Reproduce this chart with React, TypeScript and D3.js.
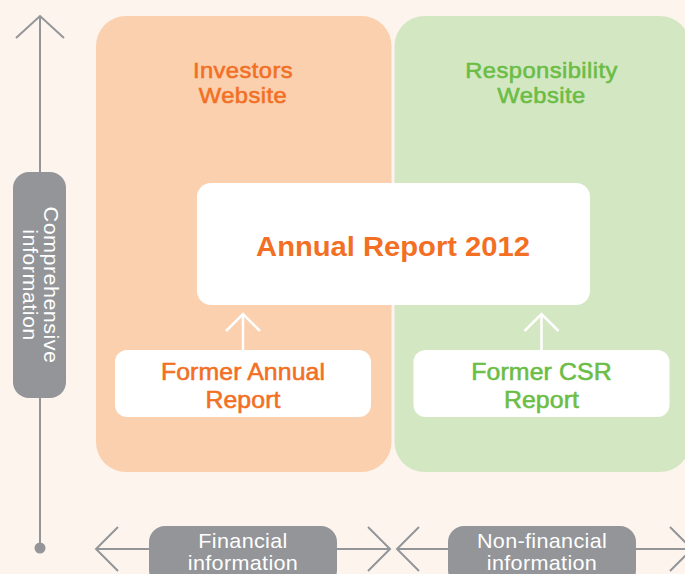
import React from "react";
import * as d3 from "d3";

const W = 685;
const H = 574;

// Content of the diagram
const panelTitles = [["Investors", "Website"], ["Responsibility", "Website"]];
const centerTitle = "Annual Report 2012";
const formerReports = [["Former Annual", "Report"], ["Former CSR", "Report"]];
const axisLabelsX = [["Financial", "information"], ["Non-financial", "information"]];
const axisLabelY = ["Comprehensive", "information"];
const panelColors = ["#fbd0ae", "#d4e7c3"];
const textColors = ["#f26f24", "#6bbd45"];

const FONT = "'Liberation Sans', Arial, Helvetica, sans-serif";
const GREY = "#939598";
const SX = 1.08; // horizontal widening to mimic Helvetica Neue

type TProps = { x: number; y: number; size: number; fill: string; bold?: boolean; medium?: boolean; ls?: number; children: string };
function T({ x, y, size, fill, bold, medium, ls = 0.2, children }: TProps) {
  return (
    <text transform={`translate(${x},${y}) scale(${SX},1)`} textAnchor="middle" fontFamily={FONT}
      fontWeight={bold ? "bold" : "normal"} fontSize={size} letterSpacing={ls} fill={fill}
      stroke={medium ? fill : "none"} strokeWidth={medium ? 0.55 : 0}>{children}</text>
  );
}

export default function App() {
  const xBand = d3.scaleBand<number>().domain([0, 1]).range([96, 690]).paddingInner(0.01);
  const bw = xBand.bandwidth();
  const panelTop = 16;
  const panelBottom = 472;

  const chevron = (x: number, y: number, dir: number, size = 22) =>
    `M${x + dir * size},${y - size} L${x},${y} L${x + dir * size},${y + size}`;

  return (
    <svg width={W} height={H} style={{ position: "absolute", left: 0, top: 0, background: "#fdf4ee" }}>
      <rect x={0} y={0} width={W} height={H} fill="#fdf4ee" />
      {panelColors.map((c, i) => {
        const x0 = xBand(i)!;
        return (
          <g key={i}>
            <rect x={x0} y={panelTop} width={bw} height={panelBottom - panelTop} rx={30} ry={30} fill={c} />
            {panelTitles[i].map((t, j) => (
              <T key={j} x={x0 + 147} y={78 + j * 25} size={22} medium ls={0.4} fill={textColors[i]}>{t}</T>
            ))}
            <rect x={x0 + 19} y={350} width={256} height={67} rx={12} fill="#fff" />
            {formerReports[i].map((t, j) => (
              <T key={j} x={x0 + 147} y={380 + j * 28} size={23} medium ls={0.1} fill={textColors[i]}>{t}</T>
            ))}
            <line x1={x0 + 147} y1={350} x2={x0 + 147} y2={314} stroke="#fff" strokeWidth={2.5} />
            <path d={`M${x0 + 130},${331} L${x0 + 147},${314} L${x0 + 164},${331}`} fill="none" stroke="#fff" strokeWidth={2.5} />
          </g>
        );
      })}
      <rect x={197} y={183} width={393} height={122} rx={14} fill="#fff" />
      <T x={393} y={256} size={27} bold ls={0} fill={textColors[0]}>{centerTitle}</T>

      <line x1={40} y1={16} x2={40} y2={548} stroke={GREY} strokeWidth={2} />
      <path d={`M16,38 L40,16 L64,38`} fill="none" stroke={GREY} strokeWidth={2} />
      <circle cx={40} cy={548} r={5.5} fill={GREY} />
      <rect x={13} y={172} width={53} height={226} rx={16} fill={GREY} />
      <g transform="translate(40,285) rotate(90)">
        {axisLabelY.map((t, j) => (
          <T key={j} x={0} y={-4 + j * 21} size={20} ls={0.4} fill="#fff">{t}</T>
        ))}
      </g>

      {axisLabelsX.map((lab, i) => {
        const x0 = i === 0 ? 96 : 397;
        const x1 = i === 0 ? 390 : 692;
        const y = 549;
        const cx = (x0 + (i === 0 ? 390 : 687)) / 2;
        return (
          <g key={i}>
            <line x1={x0} y1={y} x2={x1} y2={y} stroke={GREY} strokeWidth={2} />
            <path d={chevron(x0, y, 1)} fill="none" stroke={GREY} strokeWidth={2} />
            <path d={chevron(x1, y, -1)} fill="none" stroke={GREY} strokeWidth={2} />
            <rect x={cx - 94} y={526} width={188} height={60} rx={16} fill={GREY} />
            {lab.map((t, j) => (
              <T key={j} x={cx} y={548 + j * 22} size={20} ls={0.3} fill="#fff">{t}</T>
            ))}
          </g>
        );
      })}
    </svg>
  );
}
